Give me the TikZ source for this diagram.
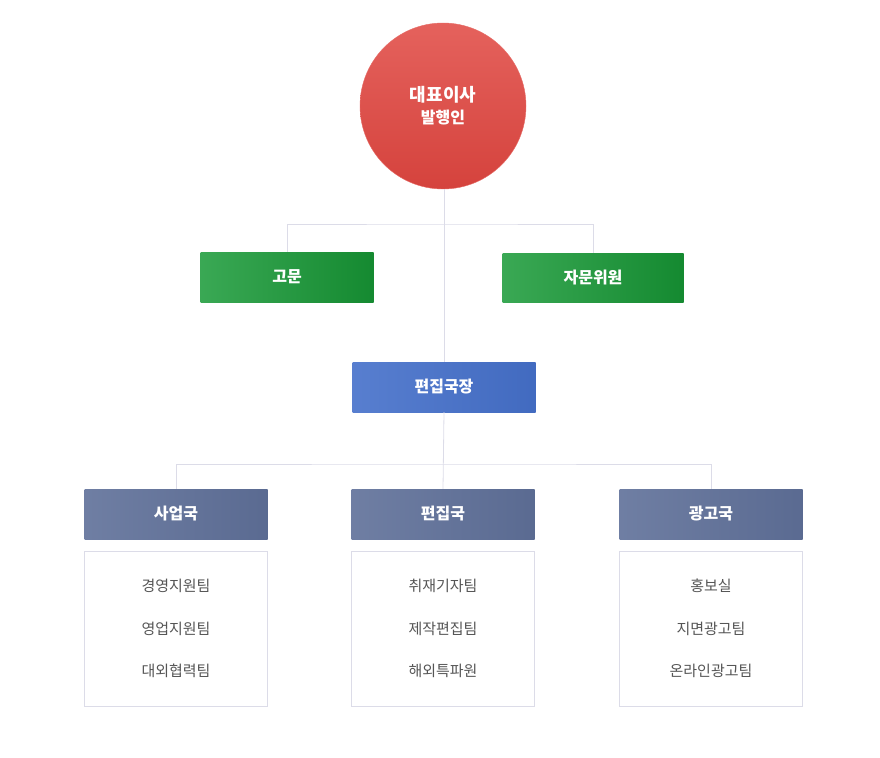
\documentclass[tikz,border=0pt]{standalone}
\usepackage{fontspec}
\setmainfont{Noto Sans CJK KR}
\usetikzlibrary{positioning, calc}
\definecolor{ceored}{HTML}{E04640}
\definecolor{advgreen}{HTML}{179936}
\definecolor{chiefblue}{HTML}{4570CA}
\definecolor{deptslate}{HTML}{5F7099}
\definecolor{linegray}{HTML}{DCDCE8}
\definecolor{textgray}{HTML}{555555}

\begin{document}
\begin{tikzpicture}[
    x=1pt, y=-1pt,
    box/.style={rectangle, minimum height=50pt, text=white, font=\fontsize{16}{18}\selectfont\bfseries, inner sep=0pt},
    greenbox/.style={box, left color=advgreen!85!white, right color=advgreen!90!black},
    bluebox/.style={box, left color=chiefblue!90!white, right color=chiefblue!95!black, minimum width=183pt},
    deptbox/.style={box, left color=deptslate!90!white, right color=deptslate!95!black, minimum width=183pt},
    teambox/.style={draw=linegray, fill=white, minimum width=183pt, minimum height=155pt, inner sep=0pt},
    team/.style={text=textgray, font=\fontsize{15}{18}\selectfont},
    link/.style={draw=linegray, line width=0.8pt},
]
\useasboundingbox (0,0) rectangle (880,757);

% CEO circle
\node[circle, minimum size=166pt, inner sep=0pt, draw=ceored!80!white, top color=ceored!85!white, bottom color=ceored!95!black,
      text=white, font=\fontsize{18}{24}\selectfont\bfseries, align=center] (ceo) at (443,106) {대표이사\\[-2pt]{\fontsize{16}{20}\selectfont 발행인}};

% advisors
\node[greenbox, minimum width=173pt] (gomun) at (287,277) {고문};
\node[greenbox, minimum width=181pt, minimum height=49pt] (jamun) at (593,278) {자문위원};

% editor in chief
\node[bluebox] (chief) at (444,387) {편집국장};

% departments
\node[deptbox] (biz) at (176,514) {사업국};
\node[deptbox] (edit) at (443,514) {편집국};
\node[deptbox] (ad) at (711,514) {광고국};

% team lists
\node[teambox] (bizlist) at (176,629) {};
\node[teambox] (editlist) at (443,629) {};
\node[teambox] (adlist) at (711,629) {};

\node[team] at (176,586) {경영지원팀};
\node[team] at (176,629) {영업지원팀};
\node[team] at (176,671) {대외협력팀};
\node[team] at (443,586) {취재기자팀};
\node[team] at (443,629) {제작편집팀};
\node[team] at (443,671) {해외특파원};
\node[team] at (711,586) {홍보실};
\node[team] at (711,629) {지면광고팀};
\node[team] at (711,671) {온라인광고팀};

% connectors
\coordinate (advbar) at (444,224);
\coordinate (deptbar) at (444,464);
\draw[link] (ceo.south -| chief.north) -- (chief.north);
\draw[link] (gomun.north) |- (advbar) -| (jamun.north);
\draw[link] (chief.south) -- (edit.north);
\draw[link] (biz.north) |- (deptbar) -| (ad.north);
\end{tikzpicture}
\end{document}
